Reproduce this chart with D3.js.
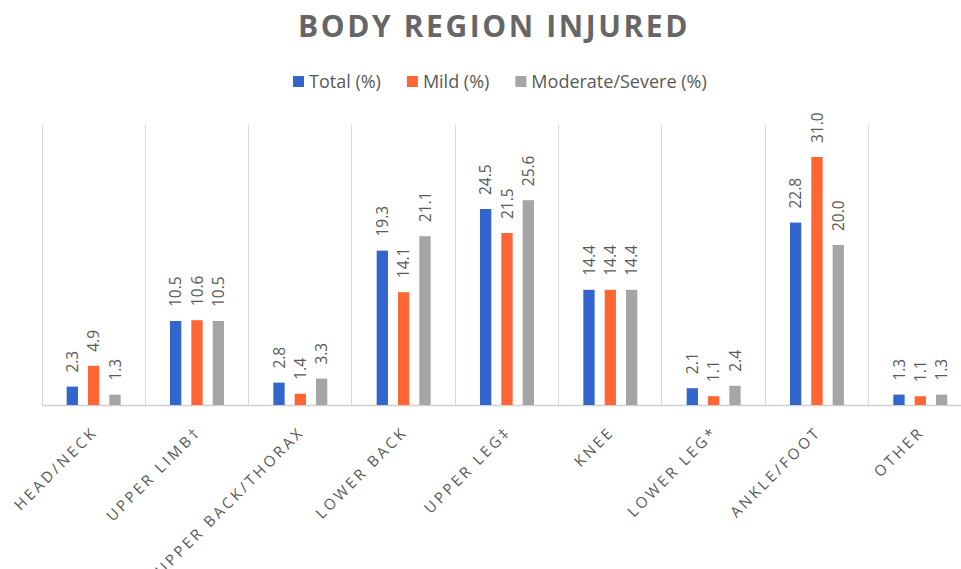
<!DOCTYPE html>
<html>
<head>
<meta charset="utf-8">
<script src="https://cdn.jsdelivr.net/npm/d3@7"></script>
<style>
  html, body { margin: 0; padding: 0; background: #fff; }
  svg { display: block; font-family: 'Open Sans', sans-serif; }
</style>
</head>
<body>
<div id="chart"></div>
<script>
/* ---------- data ---------- */
const categories = ['HEAD/NECK', 'UPPER LIMB\u2020', 'UPPER BACK/THORAX', 'LOWER BACK',
  'UPPER LEG\u2021', 'KNEE', 'LOWER LEG*', 'ANKLE/FOOT', 'OTHER'];
const seriesNames = ['Total (%)', 'Mild (%)', 'Moderate/Severe (%)'];
const totalValues = [2.3, 10.5, 2.8, 19.3, 24.5, 14.4, 2.1, 22.8, 1.3];
const mildValues = [4.9, 10.6, 1.4, 14.1, 21.5, 14.4, 1.1, 31.0, 1.1];
const severeValues = [1.3, 10.5, 3.3, 21.1, 25.6, 14.4, 2.4, 20.0, 1.3];
const seriesColors = ['#3366cc', '#ff6633', '#a5a5a5'];

const W = 961, H = 569;
const margin = { top: 125, left: 42, bottom: 405 };
const bandW = 103.33;
const textColor = '#595959';

const seriesValues = [totalValues, mildValues, severeValues];

const svg = d3.select('#chart').append('svg')
  .attr('width', W).attr('height', H);

/* ---------- scales ---------- */
const x0 = d3.scaleBand()
  .domain(categories)
  .range([margin.left, margin.left + bandW * categories.length])
  .padding(0);

const groupW = 64;
const x1 = d3.scaleBand()
  .domain(d3.range(seriesNames.length))
  .range([0, groupW])
  .paddingInner(0.47)
  .paddingOuter(0.235);

const y = d3.scaleLinear().domain([0, 35]).range([margin.bottom, margin.top]);

/* ---------- title ---------- */
const title = svg.append('text')
  .attr('x', 494).attr('y', 37)
  .attr('text-anchor', 'middle')
  .attr('fill', '#666')
  .style('font-size', '30px')
  .style('font-weight', 700)
  .text('BODY REGION INJURED');
// spread letters to match the original width
{
  const target = 392, n = 'BODY REGION INJURED'.length;
  const w = title.node().getComputedTextLength();
  title.style('letter-spacing', ((target - w) / n) + 'px');
}

/* ---------- legend ---------- */
const legend = svg.append('g');
let lx = 0;
seriesNames.forEach((name, i) => {
  const g = legend.append('g').attr('transform', `translate(${lx},0)`);
  g.append('rect').attr('x', 0).attr('y', 76).attr('width', 11).attr('height', 11)
    .attr('fill', seriesColors[i]);
  const t = g.append('text').attr('x', 16).attr('y', 87.5)
    .attr('fill', textColor).style('font-size', '18px').text(name);
  lx += 16 + t.node().getComputedTextLength() + 26;
});
{
  const bb = legend.node().getBBox();
  legend.attr('transform', `translate(${293 - bb.x},0)`);
}

/* ---------- gridlines ---------- */
const bounds = categories.map((c) => x0(c)).concat([x0.range()[1]]);
svg.append('g').selectAll('line')
  .data(bounds)
  .join('line')
  .attr('x1', (d) => d).attr('x2', (d) => d)
  .attr('y1', margin.top).attr('y2', margin.bottom)
  .attr('stroke', '#d9d9d9').attr('stroke-width', 1)
  .attr('shape-rendering', 'crispEdges');

svg.append('line')
  .attr('x1', margin.left).attr('x2', x0.range()[1])
  .attr('y1', y(0) + 0.5).attr('y2', y(0) + 0.5)
  .attr('stroke', '#d0d0d0').attr('stroke-width', 1.5);

/* ---------- bars ---------- */
const groups = svg.append('g').selectAll('g')
  .data(categories)
  .join('g')
  .attr('transform', (c) => `translate(${x0(c) + (x0.bandwidth() - groupW) / 2},0)`);

groups.each(function (c, ci) {
  const g = d3.select(this);
  seriesValues.forEach((vals, si) => {
    const v = vals[ci];
    g.append('rect')
      .attr('x', x1(si))
      .attr('y', y(v))
      .attr('width', x1.bandwidth())
      .attr('height', y(0) - y(v))
      .attr('fill', seriesColors[si]);
    const cx = x1(si) + x1.bandwidth() / 2;
    g.append('text')
      .attr('transform', `translate(${cx},${y(v) - 14}) rotate(-90)`)
      .attr('dy', '0.36em')
      .attr('fill', textColor)
      .style('font-size', '15.5px')
      .text(v.toFixed(1));
  });
});

/* ---------- category labels ---------- */
svg.append('g').selectAll('text')
  .data(categories)
  .join('text')
  .attr('transform', (c) => `translate(${x0(c) + x0.bandwidth() / 2 + 5},433) rotate(-45)`)
  .attr('text-anchor', 'end')
  .attr('fill', textColor)
  .style('font-size', '15px')
  .style('letter-spacing', '3px')
  .text((c) => c);
</script>
</body>
</html>
